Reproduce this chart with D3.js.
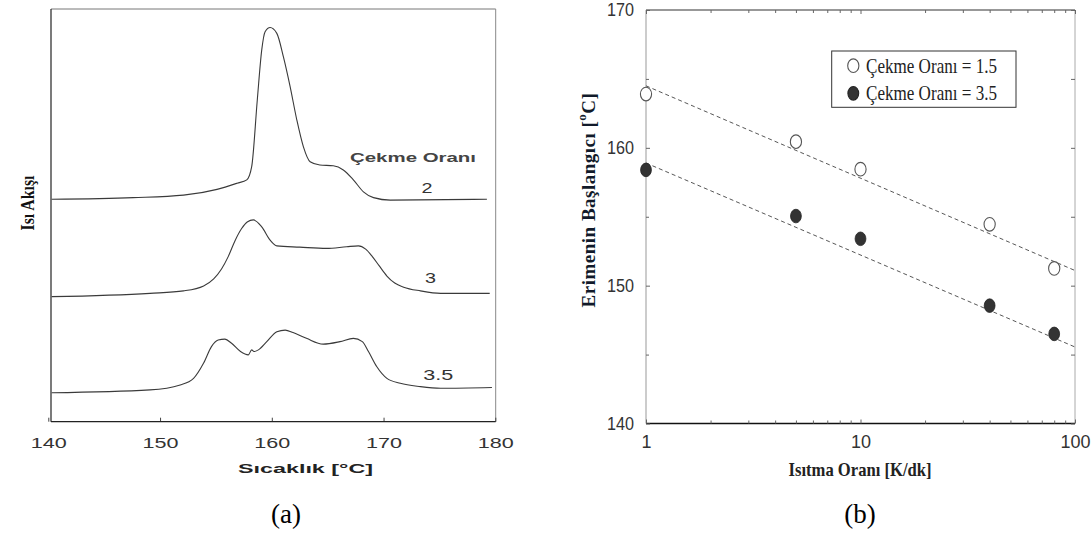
<!DOCTYPE html>
<html>
<head>
<meta charset="utf-8">
<script src="https://cdn.jsdelivr.net/npm/d3@7"></script>
<style>
html,body{margin:0;padding:0;background:#fff;}
svg{display:block;}
</style>
</head>
<body>
<svg id="chart" width="1092" height="533"></svg>
<script>
// ---------- Panel (a): DSC curves ----------
const tempTicks = [140, 150, 160, 170, 180];
const drawRatioLabels = ["2", "3", "3.5"];
// temperature [°C] and heat flow (arbitrary units) of each sampled point
const curve2T = [140.3,147.6,152.1,155.1,156.9,157.76,158.2,158.7,159.1,159.4,159.85,160.45,161.04,161.64,162.24,162.83,163.43,164.3,165.5,166.4,167.3,168.2,169.1,170.6,179.25];
const curve2H = [53.9,54.3,54.9,56.3,57.8,58.6,61.8,77.9,90.1,94.5,95.5,94.1,88.4,81.2,73.1,66.6,63.0,62.2,62.0,61.0,58.6,55.7,54.3,53.7,53.9];
const curve3T = [140.3,149.1,152.1,153.9,154.8,155.5,156.1,156.7,157.3,157.8,158.35,159.1,159.85,160.45,162.5,164.9,166.7,167.75,168.4,169.0,169.6,170.3,171.0,171.8,173.3,175.1,179.5];
const curve3H = [30.3,31.1,31.7,32.9,34.6,37.0,40.0,43.8,46.8,48.4,48.9,47.2,44.0,42.6,42.3,42.0,42.4,42.6,41.8,40.0,37.8,35.3,33.6,32.6,31.7,31.1,31.1];
const curve35T = [140.3,149.1,151.8,153.0,153.9,154.6,155.2,155.8,156.4,157.2,157.9,158.2,158.4,158.8,159.55,160.45,161.2,161.9,163.1,164.6,166.1,167.3,168.1,168.65,169.4,170.3,171.5,173.3,175.1,179.7];
const curve35H = [7.0,7.7,8.9,10.5,14.2,18.2,19.8,20.0,19.0,17.0,16.2,17.4,17.0,17.4,19.4,21.8,22.2,21.6,20.2,18.8,19.4,20.2,19.4,17.0,13.3,10.5,9.3,8.5,8.1,8.3];
// label anchor (temperature, heat flow)
const labelT = [173.9, 174.2, 174.9];
const labelH = [56.6, 34.7, 11.4];

// ---------- Panel (b): onset of melting ----------
const heatingRates = [1, 5, 10, 40, 80];
const onsetDR15 = [163.9, 160.45, 158.45, 154.45, 151.25];
const onsetDR35 = [158.4, 155.05, 153.4, 148.55, 146.5];
const fitRates = [1, 100];
const fitDR15 = [164.5, 151.1];
const fitDR35 = [158.9, 145.55];
const onsetTicks = [140, 150, 160, 170];
const onsetMinor = [145, 155, 165];
const rateTicks = [1, 10, 100];
const rateMinor = [2,3,4,5,6,7,8,9,20,30,40,50,60,70,80,90];
const legendLabels = ["Çekme Oranı = 1.5", "Çekme Oranı = 3.5"];

const svg = d3.select("#chart");

// ===== Panel (a) =====
const ax = {l: 51, r: 495.7, t: 9, b: 421.7};
const xA = d3.scaleLinear().domain([140, 180]).range([48.3, 495.3]);
const yA = d3.scaleLinear().domain([0, 100]).range([ax.b, ax.t]);
const gA = svg.append("g");

// frame
gA.append("line").attr("x1", ax.l).attr("x2", ax.r).attr("y1", ax.t).attr("y2", ax.t).attr("stroke", "#777").attr("stroke-width", 1);
gA.append("line").attr("x1", ax.r).attr("x2", ax.r).attr("y1", ax.t).attr("y2", ax.b).attr("stroke", "#888").attr("stroke-width", 1);
gA.append("line").attr("x1", ax.l).attr("x2", ax.l).attr("y1", ax.t).attr("y2", ax.b).attr("stroke", "#222").attr("stroke-width", 1.2);

const axisA = gA.append("g").attr("transform", `translate(0,${ax.b})`)
  .call(d3.axisBottom(xA).tickValues(tempTicks).tickSize(-4).tickPadding(16).tickFormat(d3.format("d")));
axisA.select(".domain").remove();
gA.append("line").attr("x1", ax.l).attr("x2", ax.r).attr("y1", ax.b).attr("y2", ax.b).attr("stroke", "#222").attr("stroke-width", 1.2);
axisA.selectAll(".tick line").attr("stroke", "#444");
axisA.selectAll(".tick text")
  .attr("font-family", "Liberation Sans, Arial, sans-serif").attr("font-size", 14)
  .attr("fill", "#333").attr("textLength", 36).attr("lengthAdjust", "spacingAndGlyphs");

const lineA = d3.line().x(d => xA(d[0])).y(d => yA(d[1])).curve(d3.curveMonotoneX);
const curves = [[curve2T, curve2H], [curve3T, curve3H], [curve35T, curve35H]];
curves.forEach(([T, H]) => {
  gA.append("path").datum(T.map((t, i) => [t, H[i]]))
    .attr("d", lineA).attr("fill", "none").attr("stroke", "#3a3a3a").attr("stroke-width", 1.1);
});
drawRatioLabels.forEach((s, i) => {
  gA.append("text").attr("x", xA(labelT[i])).attr("y", yA(labelH[i]))
    .attr("text-anchor", "middle").attr("dominant-baseline", "central")
    .attr("font-family", "Liberation Sans, Arial, sans-serif").attr("font-size", 14)
    .attr("fill", "#333")
    .attr("textLength", s.length === 1 ? 11 : 30).attr("lengthAdjust", "spacingAndGlyphs")
    .text(s);
});
gA.append("text").attr("x", 413).attr("y", 157).attr("text-anchor", "middle").attr("dominant-baseline", "central")
  .attr("font-family", "Liberation Sans, Arial, sans-serif").attr("font-size", 13).attr("font-weight", "bold")
  .attr("fill", "#444").attr("textLength", 126).attr("lengthAdjust", "spacingAndGlyphs").text("Çekme Oranı");
gA.append("text").attr("x", 305.5).attr("y", 468.5).attr("text-anchor", "middle").attr("dominant-baseline", "central")
  .attr("font-family", "Liberation Sans, Arial, sans-serif").attr("font-size", 13).attr("font-weight", "bold")
  .attr("fill", "#222").attr("textLength", 135).attr("lengthAdjust", "spacingAndGlyphs").text("Sıcaklık [°C]");
gA.append("text").attr("transform", "translate(28,203) rotate(-90)").attr("text-anchor", "middle").attr("dominant-baseline", "central")
  .attr("font-family", "Liberation Serif, Times New Roman, serif").attr("font-size", 18).attr("font-weight", "bold")
  .attr("fill", "#111").attr("textLength", 55).attr("lengthAdjust", "spacingAndGlyphs").text("Isı Akışı");
gA.append("text").attr("x", 286).attr("y", 523).attr("text-anchor", "middle")
  .attr("font-family", "Liberation Serif, Times New Roman, serif").attr("font-size", 27)
  .attr("fill", "#000").text("(a)");

// ===== Panel (b) =====
const bx = {l: 646, r: 1075, t: 10, b: 423.5};
const xB = d3.scaleLog().domain([1, 100]).range([bx.l, bx.r]);
const yB = d3.scaleLinear().domain([140, 170]).range([bx.b, bx.t]);
const gB = svg.append("g");

// frame
gB.append("line").attr("x1", bx.l).attr("x2", bx.l).attr("y1", bx.t).attr("y2", bx.b).attr("stroke", "#999").attr("stroke-width", 1);
gB.append("line").attr("x1", bx.r).attr("x2", bx.r).attr("y1", bx.t).attr("y2", bx.b).attr("stroke", "#aaa").attr("stroke-width", 1);
gB.append("line").attr("x1", bx.l).attr("x2", bx.r).attr("y1", bx.t).attr("y2", bx.t).attr("stroke", "#333").attr("stroke-width", 1.2);
gB.append("line").attr("x1", bx.l).attr("x2", bx.r).attr("y1", bx.b).attr("y2", bx.b).attr("stroke", "#111").attr("stroke-width", 1.3);

function styleAxis(g) {
  g.select(".domain").remove();
  g.selectAll(".tick line").attr("stroke", "#666");
  g.selectAll(".tick text").attr("font-family", "Liberation Sans, Arial, sans-serif").attr("font-size", 18).attr("fill", "#333");
}
// left axis
gB.append("g").attr("transform", `translate(${bx.l},0)`)
  .call(d3.axisLeft(yB).tickValues(onsetTicks).tickSize(-4).tickPadding(12).tickFormat(d3.format("d"))).call(styleAxis)
  .selectAll(".tick text").attr("textLength", 27).attr("lengthAdjust", "spacingAndGlyphs");
gB.append("g").attr("transform", `translate(${bx.l},0)`)
  .call(d3.axisLeft(yB).tickValues(onsetMinor).tickSize(-3).tickFormat("")).call(styleAxis);
// right axis
gB.append("g").attr("transform", `translate(${bx.r},0)`)
  .call(d3.axisRight(yB).tickValues(onsetTicks.concat(onsetMinor)).tickSize(-4).tickFormat("")).call(styleAxis);
// bottom axis
gB.append("g").attr("transform", `translate(0,${bx.b})`)
  .call(d3.axisBottom(xB).tickValues(rateTicks).tickSize(-4).tickPadding(12).tickFormat(d3.format("d"))).call(styleAxis);
gB.append("g").attr("transform", `translate(0,${bx.b})`)
  .call(d3.axisBottom(xB).tickValues(rateMinor).tickSize(-3).tickFormat("")).call(styleAxis);
// top axis
gB.append("g").attr("transform", `translate(0,${bx.t})`)
  .call(d3.axisTop(xB).tickValues(rateTicks).tickSize(-4).tickFormat("")).call(styleAxis);
gB.append("g").attr("transform", `translate(0,${bx.t})`)
  .call(d3.axisTop(xB).tickValues(rateMinor).tickSize(-3).tickFormat("")).call(styleAxis);

// fit lines
const lineB = d3.line().x(d => xB(d[0])).y(d => yB(d[1]));
[fitDR15, fitDR35].forEach(f => {
  gB.append("path").datum(fitRates.map((r, i) => [r, f[i]]))
    .attr("d", lineB).attr("fill", "none").attr("stroke", "#444").attr("stroke-width", 0.9)
    .attr("stroke-dasharray", "4,3");
});
// points
gB.selectAll(".open").data(heatingRates.map((r, i) => [r, onsetDR15[i]])).join("ellipse")
  .attr("cx", d => xB(d[0])).attr("cy", d => yB(d[1])).attr("rx", 5.6).attr("ry", 6.8)
  .attr("fill", "#fff").attr("stroke", "#555").attr("stroke-width", 1.1);
gB.selectAll(".filled").data(heatingRates.map((r, i) => [r, onsetDR35[i]])).join("ellipse")
  .attr("cx", d => xB(d[0])).attr("cy", d => yB(d[1])).attr("rx", 5.4).attr("ry", 6.8)
  .attr("fill", "#333").attr("stroke", "#222").attr("stroke-width", 0.8);

// legend
const lg = gB.append("g");
lg.append("rect").attr("x", 831.7).attr("y", 51).attr("width", 184.3).attr("height", 56.3)
  .attr("fill", "#fff").attr("stroke", "#333").attr("stroke-width", 1);
legendLabels.forEach((s, i) => {
  const cy = 65.7 + i * 27.6;
  lg.append("ellipse").attr("cx", 853.3).attr("cy", cy).attr("rx", i ? 5.4 : 5.6).attr("ry", 6.8)
    .attr("fill", i ? "#333" : "#fff").attr("stroke", i ? "#222" : "#555").attr("stroke-width", 1.1);
  lg.append("text").attr("x", 866).attr("y", cy + 7)
    .attr("font-family", "Liberation Serif, Times New Roman, serif").attr("font-size", 21).attr("fill", "#222")
    .attr("textLength", 131).attr("lengthAdjust", "spacingAndGlyphs").text(s);
});

// axis titles
gB.append("text").attr("x", 860).attr("y", 469).attr("text-anchor", "middle").attr("dominant-baseline", "central")
  .attr("font-family", "Liberation Serif, Times New Roman, serif").attr("font-size", 19).attr("font-weight", "bold")
  .attr("fill", "#222").attr("textLength", 143).attr("lengthAdjust", "spacingAndGlyphs").text("Isıtma Oranı [K/dk]");
const yt = gB.append("text").attr("transform", "translate(588,200) rotate(-90)").attr("text-anchor", "middle")
  .attr("dominant-baseline", "central")
  .attr("font-family", "Liberation Serif, Times New Roman, serif").attr("font-size", 19).attr("font-weight", "bold")
  .attr("letter-spacing", 0.5)
  .attr("fill", "#111a2a");
yt.append("tspan").text("Erimenin Başlangıcı [");
yt.append("tspan").attr("dy", -7).attr("font-size", 13).text("o");
yt.append("tspan").attr("dy", 7).text("C]");
gB.append("text").attr("x", 860).attr("y", 523).attr("text-anchor", "middle")
  .attr("font-family", "Liberation Serif, Times New Roman, serif").attr("font-size", 27)
  .attr("fill", "#000").text("(b)");
</script>
</body>
</html>
